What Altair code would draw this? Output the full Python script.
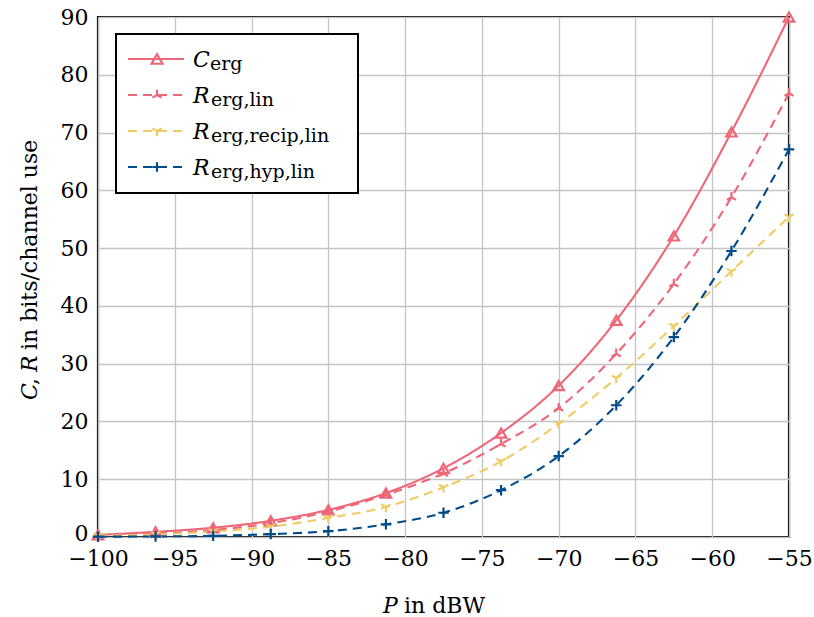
import altair as alt
import pandas as pd

# ---------------- data ----------------
P_dBW = [-100, -96.25, -92.5, -88.75, -85, -81.25, -77.5, -73.75, -70, -66.25, -62.5, -58.75, -55]
C_erg = [0.35, 0.9, 1.6, 2.8, 4.7, 7.6, 11.9, 18.0, 26.2, 37.5, 52.1, 70.1, 90.0]
R_erg_lin = [0.25, 0.6, 1.2, 2.4, 4.4, 7.3, 11.0, 16.1, 22.3, 31.7, 43.8, 58.8, 76.8]
R_erg_recip_lin = [0.2, 0.45, 0.95, 1.8, 3.3, 5.2, 8.6, 13.1, 19.6, 27.5, 36.5, 46.0, 55.4]
R_erg_hyp_lin = [0.05, 0.1, 0.2, 0.5, 1.0, 2.2, 4.2, 8.1, 14.0, 22.8, 34.6, 49.5, 67.1]

series_names = ["C_erg", "R_erg,lin", "R_erg,recip,lin", "R_erg,hyp,lin"]
series_values = [C_erg, R_erg_lin, R_erg_recip_lin, R_erg_hyp_lin]
legend_main = ["C", "R", "R", "R"]
legend_sub = ["erg", "erg,lin", "erg,recip,lin", "erg,hyp,lin"]

x_ticks = [-100, -95, -90, -85, -80, -75, -70, -65, -60, -55]
y_ticks = [0, 10, 20, 30, 40, 50, 60, 70, 80, 90]

# ---------------- styles ----------------
colors = ["#EE6677", "#EE6677", "#EECC66", "#004C88"]
dashes = [[1, 0], [9, 6], [9, 6], [9, 6]]
shapes = [
    "triangle-up",
    "M0,0L0,-1M0,0L0.87,0.5M0,0L-0.87,0.5",
    "M0,0L0,1M0,0L0.87,-0.5M0,0L-0.87,-0.5",
    "M-1,0L1,0M0,-1L0,1",
]
marker_sizes = [120, 110, 110, 90]
FONT = "DejaVu Serif"
FS = 22
SUB = 19

rows = []
for name, vals in zip(series_names, series_values):
    for p, v in zip(P_dBW, vals):
        rows.append({"P": p, "value": v, "series": name})
df = pd.DataFrame(rows)

W, H = 691, 520

x_enc = alt.X("P:Q", title="",
              scale=alt.Scale(domain=[-100, -55], nice=False, zero=False),
              axis=alt.Axis(values=x_ticks, labelPadding=11, labelFlush=False,
                            labelFont=FONT, labelFontSize=FS, labelColor="black"))
y_enc = alt.Y("value:Q", title="",
              scale=alt.Scale(domain=[0, 90], nice=False),
              axis=alt.Axis(values=y_ticks, labelPadding=10,
                            labelOffset={"condition": {"test": "datum.value == 0", "value": -4}, "value": 0},
                            labelFont=FONT, labelFontSize=FS, labelColor="black"))
color_enc = alt.Color("series:N", scale=alt.Scale(domain=series_names, range=colors), legend=None)
dash_enc = alt.StrokeDash("series:N", scale=alt.Scale(domain=series_names, range=dashes), legend=None)
shape_enc = alt.Shape("series:N", scale=alt.Scale(domain=series_names, range=shapes), legend=None)

base = alt.Chart(df)
lines = base.mark_line(interpolate="monotone", strokeWidth=2.1, clip=False).encode(
    x=x_enc, y=y_enc, color=color_enc, strokeDash=dash_enc, detail="series:N")
points = base.mark_point(filled=False, strokeWidth=2.2, size=110, opacity=1, clip=False).encode(
    x=x_enc, y=y_enc, color=color_enc, shape=shape_enc)

one = alt.Data(values=[{"k": 1}])
deco = []

# legend box
deco.append(alt.Chart(one).mark_rect(fill="white", stroke="black", strokeWidth=2).encode(
    x=alt.value(18), x2=alt.value(260), y=alt.value(17), y2=alt.value(176)))

leg_y = [42, 78, 114, 150]
for i in range(4):
    ly = leg_y[i]
    deco.append(alt.Chart(one).mark_rule(color=colors[i], strokeWidth=2.1, strokeDash=dashes[i]).encode(
        x=alt.value(30), x2=alt.value(86), y=alt.value(ly)))
    deco.append(alt.Chart(one).mark_point(shape=shapes[i], filled=False, color=colors[i],
                                          strokeWidth=2.2, size=marker_sizes[i], opacity=1).encode(
        x=alt.value(59), y=alt.value(ly)))
    deco.append(alt.Chart(one).mark_text(text=legend_main[i], font=FONT, fontSize=FS, fontStyle="italic",
                                         align="left", baseline="alphabetic", color="black").encode(
        x=alt.value(95), y=alt.value(ly + 8)))
    deco.append(alt.Chart(one).mark_text(text=legend_sub[i], font=FONT, fontSize=SUB,
                                         align="left", baseline="alphabetic", color="black").encode(
        x=alt.value(112 if legend_main[i] == "C" else 113), y=alt.value(ly + 11)))

# x axis title: "P in dBW"
deco.append(alt.Chart(one).mark_text(text="P", font=FONT, fontSize=FS, fontStyle="italic",
                                     align="left", baseline="alphabetic", color="black").encode(
    x=alt.value(285), y=alt.value(596)))
deco.append(alt.Chart(one).mark_text(text="in dBW", font=FONT, fontSize=FS,
                                     align="left", baseline="alphabetic", color="black").encode(
    x=alt.value(306), y=alt.value(596)))

# y axis title: "C, R in bits/channel use" (rotated)
ysegs = [("C", "italic", 383), (",", "normal", 368), ("R", "italic", 355),
         ("in bits/channel use", "normal", 333)]
for txt, style, yy in ysegs:
    deco.append(alt.Chart(one).mark_text(text=txt, font=FONT, fontSize=FS, fontStyle=style, angle=270,
                                         align="left", baseline="alphabetic", color="black").encode(
        x=alt.value(-61), y=alt.value(yy)))

chart = alt.layer(lines, points, *deco).properties(
    width=W, height=H,
    background="white",
    padding={"left": 98, "top": 17, "right": 25, "bottom": 80},
    autosize=alt.AutoSizeParams(type="none"),
).configure_view(
    stroke="black", strokeWidth=2.2
).configure_axis(
    labelFont=FONT, labelFontSize=FS, labelColor="black",
    grid=True, gridColor="#c4c4c4", gridWidth=1.3,
    domain=False, ticks=False,
)

chart.save("out.html", embed_options={"renderer": "svg", "actions": False})
